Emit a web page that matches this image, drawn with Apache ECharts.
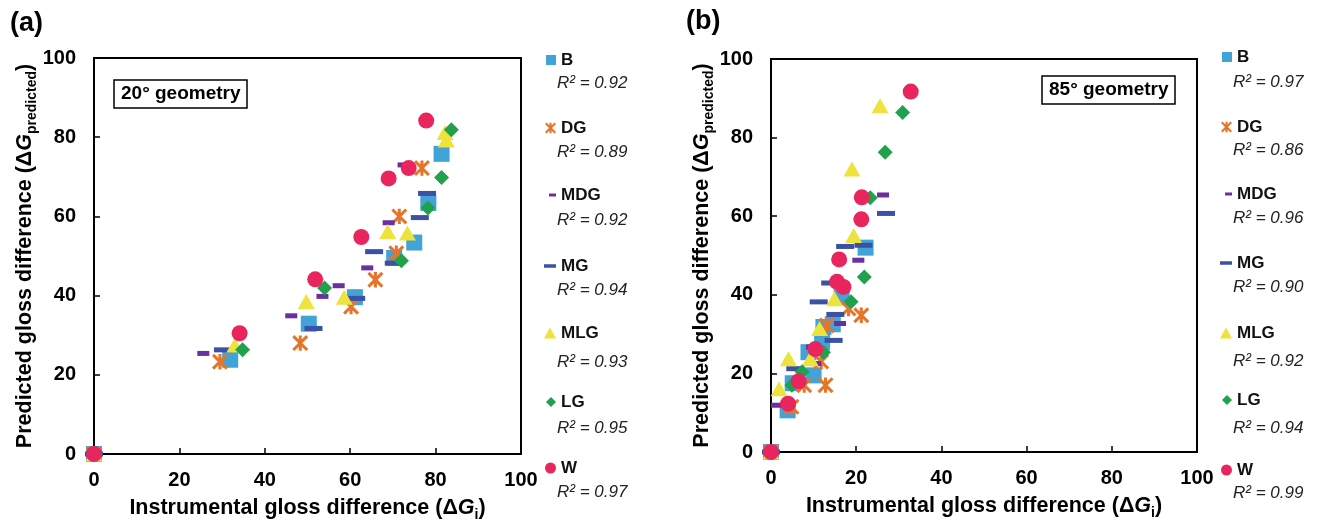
<!DOCTYPE html>
<html>
<head>
<meta charset="utf-8">
<script src="https://cdn.jsdelivr.net/npm/echarts@6/dist/echarts.min.js"></script>
<style>
html, body { margin: 0; padding: 0; background: #fff; }
#chart { width: 1318px; height: 524px; }
</style>
</head>
<body>
<div id="chart"></div>
<script>
// series names, colours and fit quality per panel
const names = ['B', 'DG', 'MDG', 'MG', 'MLG', 'LG', 'W'];
const colors = ['#41A3D7', '#E5752B', '#6C2F9F', '#3A51A6', '#EEE33D', '#21A14B', '#E8255D'];
const r2A = ['0.92', '0.89', '0.92', '0.94', '0.93', '0.95', '0.97'];
const r2B = ['0.97', '0.86', '0.96', '0.90', '0.92', '0.94', '0.99'];

// (a) 20° geometry  [instrumental, predicted]
const aB = [[0, 0], [31.9, 23.8], [50.3, 32.9], [61.1, 39.6], [70.3, 49.5], [75.0, 53.4], [78.3, 63.4], [81.4, 75.8]];
const aDG = [[0, 0], [29.5, 23.3], [48.3, 28.0], [60.2, 37.2], [65.9, 44.0], [70.8, 50.7], [71.5, 60.0], [76.8, 72.2]];
const aMDG = [[0, 0], [25.6, 25.4], [46.2, 34.9], [53.5, 39.8], [57.3, 42.5], [64.0, 47.0], [69.0, 58.4], [72.5, 73.0]];
const aMG = [[0, 0], [30.2, 26.3], [51.4, 31.7], [61.4, 39.3], [65.6, 51.1], [70.2, 48.2], [76.3, 59.7], [78.0, 65.8]];
const aMLG = [[0, 0], [33.0, 27.5], [49.7, 38.5], [58.6, 39.6], [68.8, 56.2], [73.4, 55.8], [82.5, 79.3], [82.2, 81.2]];
const aLG = [[0, 0], [34.8, 26.3], [54.0, 41.9], [72.0, 48.8], [78.2, 62.1], [81.4, 69.8], [83.7, 81.9]];
const aW = [[0, 0], [34.1, 30.5], [51.8, 44.1], [62.6, 54.8], [69.0, 69.6], [73.7, 72.2], [77.8, 84.2]];

// (b) 85° geometry
const bB = [[0, 0], [3.9, 10.6], [5.1, 17.5], [10.0, 19.5], [8.8, 25.4], [12.0, 28.0], [12.3, 31.8], [14.5, 32.5], [16.6, 39.4], [22.2, 52.0]];
const bDG = [[0, 0], [4.8, 11.5], [7.8, 17.0], [12.8, 17.0], [11.8, 23.0], [13.1, 32.2], [18.2, 36.5], [21.2, 34.8]];
const bMDG = [[0, 0], [1.4, 11.9], [9.6, 26.7], [10.4, 22.5], [16.2, 32.7], [20.5, 48.8], [26.3, 65.4]];
const bMG = [[0, 0], [5.7, 21.2], [11.2, 38.2], [14.7, 28.4], [15.1, 35.0], [13.9, 43.0], [17.4, 52.3], [21.7, 52.6], [27.0, 60.7]];
const bMLG = [[0, 0], [1.9, 16.1], [4.1, 23.7], [9.2, 23.7], [11.4, 31.4], [14.9, 39.0], [19.4, 55.1], [19.0, 72.0], [25.6, 88.1]];
const bLG = [[0, 0], [4.9, 17.0], [7.3, 20.4], [12.3, 25.4], [18.8, 38.2], [21.9, 44.5], [23.3, 64.7], [26.8, 76.3], [30.9, 86.4]];
const bW = [[0, 0], [4.0, 12.3], [6.5, 18.0], [10.4, 26.2], [15.5, 43.3], [17.0, 42.0], [16.0, 49.0], [21.2, 59.2], [21.3, 64.8], [32.8, 91.7]];

const seriesA = [aB, aDG, aMDG, aMG, aMLG, aLG, aW];
const seriesB = [bB, bDG, bMDG, bMG, bMLG, bLG, bW];

const font = "'Liberation Sans', Arial, Helvetica, sans-serif";
// thick asterisk: vertical bar + X
const star = 'path://M8,0h4v20h-4z M2.41,-0.41L20.41,17.59L17.59,20.41L-0.41,2.41z M20.41,2.41L2.41,20.41L-0.41,17.59L17.59,-0.41z';
const symbols = ['rect', star, 'rect', 'rect', 'triangle', 'diamond', 'circle'];
const sizes = [16, 16, [12, 5], [18, 5], [17, 15], 15, 16];
const iconW = [10, 11, 7, 12, 12, 10, 11];
const iconH = [10, 11, 3, 3.5, 11, 10, 11];

// legend layout (centre lines of names and R² lines)
const nameYA = [60, 128, 195, 266, 333, 402, 468];
const nameYB = [57, 127, 194, 263, 333, 400, 470];
const r2YA = [83, 152, 220, 290, 362, 428, 492];
const r2YB = [82, 150, 218, 287, 361, 428, 493];

const rich = {
    t: { fontFamily: font, fontWeight: 'bold', fontSize: 21.5, color: '#000', lineHeight: 28, verticalAlign: 'middle' },
    g: { fontFamily: font, fontWeight: 'bold', fontStyle: 'italic', fontSize: 21.5, color: '#000', lineHeight: 28, verticalAlign: 'middle' },
    s: { fontFamily: font, fontWeight: 'bold', fontSize: 14, color: '#000', lineHeight: 14, verticalAlign: 'bottom' }
};

function xAxis(idx) {
    return {
        gridIndex: idx, type: 'value', min: 0, max: 100, interval: 20,
        name: '{t|Instrumental gloss difference (Δ}{g|G}{s|i}{t|)}',
        nameLocation: 'middle', nameGap: 40,
        nameTextStyle: { rich: rich },
        axisLine: { lineStyle: { color: '#000', width: 2 } },
        axisTick: { inside: true, length: 6, lineStyle: { color: '#000', width: 1.5 } },
        axisLabel: { color: '#000', fontFamily: font, fontWeight: 'bold', fontSize: 20, margin: 16 },
        splitLine: { show: false }
    };
}
function yAxis(idx) {
    return {
        gridIndex: idx, type: 'value', min: 0, max: 100, interval: 20,
        name: '{t|Predicted gloss difference (Δ}{g|G}{s|predicted}{t|)}',
        nameLocation: 'middle', nameGap: 54, nameRotate: 90,
        nameTextStyle: { rich: rich },
        axisLine: { lineStyle: { color: '#000', width: 2 } },
        axisTick: { inside: true, length: 6, lineStyle: { color: '#000', width: 1.5 } },
        axisLabel: { color: '#000', fontFamily: font, fontWeight: 'bold', fontSize: 20, margin: 18 },
        splitLine: { show: false }
    };
}

let series = [];
let legends = [];
let graphics = [];
[seriesA, seriesB].forEach((set, p) => {
    set.forEach((d, i) => {
        series.push({
            name: names[i], type: 'scatter', xAxisIndex: p, yAxisIndex: p,
            symbol: symbols[i], symbolSize: sizes[i],
            itemStyle: { color: colors[i], opacity: 1 },
            data: d
        });
        let iconRight = p === 0 ? 556 : 1232;
        legends.push({
            left: iconRight - iconW[i], top: (p === 0 ? nameYA : nameYB)[i] - 10,
            padding: 0, itemWidth: iconW[i], itemHeight: iconH[i], selectedMode: false,
            data: [names[i]],
            textStyle: { fontFamily: font, fontWeight: 'bold', fontSize: 17, color: '#111', lineHeight: 20 }
        });
        graphics.push({
            type: 'text', left: p === 0 ? 557 : 1233, top: (p === 0 ? r2YA : r2YB)[i] - 10,
            style: { text: 'R² = ' + (p === 0 ? r2A : r2B)[i], font: 'italic 17px ' + font, fill: '#222', lineHeight: 20 }
        });
    });
});

const chart = echarts.init(document.getElementById('chart'));
chart.setOption({
    animation: false,
    title: [
        { text: '(a)', left: 10, top: 10, padding: 0, textStyle: { fontFamily: font, fontWeight: 'bold', fontSize: 27, color: '#000' } },
        { text: '(b)', left: 686, top: 8, padding: 0, textStyle: { fontFamily: font, fontWeight: 'bold', fontSize: 27, color: '#000' } },
        { text: '20° geometry', left: 114, top: 80, padding: [4, 7], borderColor: '#000', borderWidth: 1.5,
          textStyle: { fontFamily: font, fontWeight: 'bold', fontSize: 19, color: '#000', lineHeight: 20 } },
        { text: '85° geometry', left: 1042, top: 76, padding: [4, 7], borderColor: '#000', borderWidth: 1.5,
          textStyle: { fontFamily: font, fontWeight: 'bold', fontSize: 19, color: '#000', lineHeight: 20 } }
    ],
    grid: [
        { left: 94, top: 58, width: 427, height: 396, show: true, borderColor: '#000', borderWidth: 2, outerBoundsMode: 'none' },
        { left: 771, top: 59, width: 426, height: 393, show: true, borderColor: '#000', borderWidth: 2, outerBoundsMode: 'none' }
    ],
    xAxis: [xAxis(0), xAxis(1)],
    yAxis: [yAxis(0), yAxis(1)],
    legend: legends,
    graphic: graphics,
    series: series
});
</script>
</body>
</html>
